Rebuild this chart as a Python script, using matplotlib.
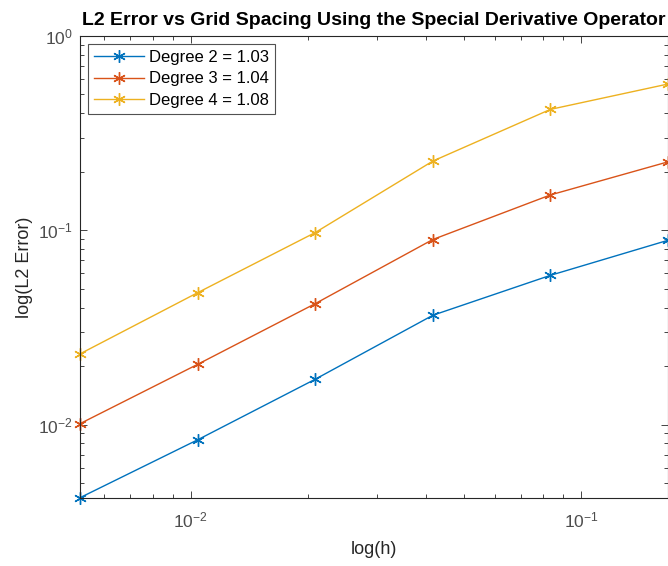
import numpy as np
import matplotlib as mpl
mpl.use('Agg')
import matplotlib.pyplot as plt
from matplotlib.ticker import LogLocator, LogFormatterMathtext, NullFormatter

plt.rc('font', family='Liberation Sans')
plt.rc('mathtext', fontset='custom', rm='Liberation Sans', it='Liberation Sans')

# grid spacing and L2 errors
h = [1/192, 1/96, 1/48, 1/24, 1/12, 1/6]
err_deg2 = [0.0042, 0.00834, 0.0171, 0.0365, 0.0586, 0.0888]
err_deg3 = [0.0101, 0.0204, 0.0419, 0.0896, 0.152, 0.225]
err_deg4 = [0.0231, 0.0477, 0.0973, 0.227, 0.419, 0.566]
labels = ['Degree 2 = 1.03', 'Degree 3 = 1.04', 'Degree 4 = 1.08']
colors = ['#0072BD', '#D95319', '#EDB120']

fig = plt.figure(figsize=(6.68, 5.66), dpi=100)
ax = fig.add_axes([80/668, 1-497.7/566, 588/668, (497.7-36)/566])

for err, lab, col in zip([err_deg2, err_deg3, err_deg4], labels, colors):
    ax.loglog(h, err, color=col, marker=(6, 2, 0), markersize=9, linewidth=1.0,
              markeredgewidth=1.0, label=lab, clip_on=False)

ax.set_xlim(h[0], h[-1])
ax.set_ylim(err_deg2[0], 1)

axcol = '#262626'
for s in ax.spines.values():
    s.set_color(axcol)
    s.set_linewidth(0.8)
ax.tick_params(which='both', direction='in', top=True, right=True, colors=axcol,
               labelsize=12.5)
ax.tick_params(which='major', length=5, width=0.6)
ax.tick_params(axis='x', which='major', pad=9)
ax.tick_params(axis='y', which='major', pad=5)
ax.tick_params(which='minor', length=3, width=0.6)
for a in (ax.xaxis, ax.yaxis):
    a.set_major_locator(LogLocator(base=10))
    a.set_major_formatter(LogFormatterMathtext())
    a.set_minor_locator(LogLocator(base=10, subs=np.arange(2, 10)))
    a.set_minor_formatter(NullFormatter())
for t in ax.get_xticklabels() + ax.get_yticklabels():
    t.set_color('#4d4d4d')

ax.set_xlabel('log(h)', fontsize=13, color='#262626', labelpad=8)
ax.set_ylabel('log(L2 Error)', fontsize=13, color='#262626', labelpad=4)
ax.set_title('L2 Error vs Grid Spacing Using the Special Derivative Operator',
             fontsize=14, fontweight='bold', pad=8)

leg = ax.legend(loc='upper left', fontsize=12, fancybox=False, edgecolor=axcol,
                borderaxespad=0.5, handlelength=3.0, labelspacing=0.38,
                borderpad=0.35, handletextpad=0.3)
leg.get_frame().set_linewidth(0.8)

fig.savefig('out.png', dpi=100)
